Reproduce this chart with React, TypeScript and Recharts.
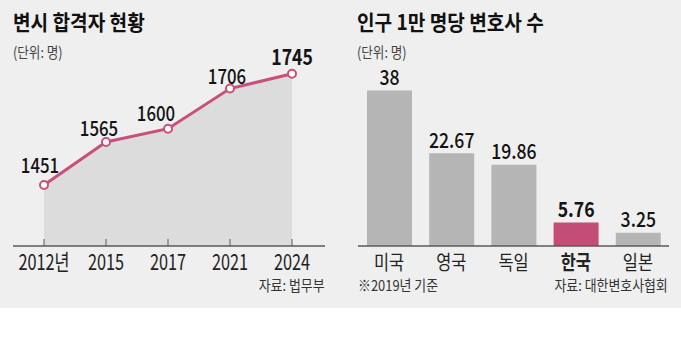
import React from "react";
import { ComposedChart, Area, XAxis, YAxis, BarChart, Bar, Cell, LabelList } from "recharts";

// 변시 합격자 현황 (단위: 명)
const years = ["2012년", "2015", "2017", "2021", "2024"];
const passers = [1451, 1565, 1600, 1706, 1745];

// 인구 1만 명당 변호사 수 (단위: 명)
const countries = ["미국", "영국", "독일", "한국", "일본"];
const lawyersPer10k = [38, 22.67, 19.86, 5.76, 3.25];
const highlight = "한국";

const FONT = "'Noto Sans CJK KR', 'Noto Sans', sans-serif";
const PINK = "#c94f7c";
const BAR_PINK = "#c44d77";
const GRAY_BAR = "#b5b5b5";
const AREA_FILL = "#dcdcdc";
const BG = "#efefef";
const AXIS = "#5a5a5a";
const INK = "#141414";

// small nudges of the line labels (they sit up-left of each point)
const lineLabelDx = [-4, -7, -12, -3, 0];
const lineLabelDy = [-21, -15, -17, -14, -18];

const passData = years.map((year, i) => ({ year, v: passers[i] }));
const barData = countries.map((name, i) => ({ name, v: lawyersPer10k[i] }));

// the original typeface is a condensed gothic, so glyphs get squeezed horizontally
function SqText({ x, y, size, sx = 0.82, weight = 400, fill = INK, anchor = "middle", children }: any) {
  return (
    <text
      transform={`translate(${x},${y}) scale(${sx},1)`}
      textAnchor={anchor}
      dominantBaseline="central"
      fontSize={size}
      fontWeight={weight}
      fill={fill}
      fontFamily={FONT}
    >
      {children}
    </text>
  );
}

function YearTick({ x, y, payload }: any) {
  return (
    <g>
      <line x1={x} x2={x} y1={y - 7} y2={y} stroke={AXIS} strokeWidth={1} />
      <SqText x={x} y={y + 15} size={22} sx={0.74} fill="#222">
        {payload.value}
      </SqText>
    </g>
  );
}

function CountryTick({ x, y, payload }: any) {
  const hot = payload.value === highlight;
  return (
    <SqText x={x} y={y + 15} size={20} weight={hot ? 700 : 400} fill="#222">
      {payload.value}
    </SqText>
  );
}

function LineLabel({ x, y, value }: any) {
  const i = passers.indexOf(Number(value));
  const last = i === passers.length - 1;
  return (
    <SqText
      x={x + (lineLabelDx[i] ?? 0)}
      y={y + (lineLabelDy[i] ?? -16)}
      size={last ? 22 : 21}
      sx={0.8}
      weight={last ? 700 : 500}
    >
      {value}
    </SqText>
  );
}

function BarLabel({ x, y, width, value }: any) {
  const i = lawyersPer10k.indexOf(Number(value));
  const hot = countries[i] === highlight;
  return (
    <SqText x={x + width / 2} y={y - 14} size={21} sx={0.84} weight={hot ? 700 : 500}>
      {value}
    </SqText>
  );
}

function Note({ style, children, size = 15, sx = 0.86, weight = 400, color = "#333", origin = "left center" }: any) {
  return (
    <div
      style={{
        position: "absolute",
        fontFamily: FONT,
        fontSize: size,
        fontWeight: weight,
        color,
        lineHeight: 1,
        whiteSpace: "nowrap",
        transform: `scaleX(${sx})`,
        transformOrigin: origin,
        ...style,
      }}
    >
      {children}
    </div>
  );
}

export default function App() {
  return (
    <div style={{ position: "absolute", left: 0, top: 0, width: 681, height: 351, background: "#fff" }}>
      <div style={{ position: "absolute", left: 0, top: 0, width: 681, height: 308, background: BG }} />

      <Note style={{ left: 13, top: 11 }} size={21} sx={0.91} weight={700} color="#111">
        변시 합격자 현황
      </Note>
      <Note style={{ left: 13, top: 44 }} size={15} sx={0.84} color="#444">
        (단위: 명)
      </Note>
      <Note style={{ left: 357, top: 11 }} size={21} sx={0.91} weight={700} color="#111">
        인구 1만 명당 변호사 수
      </Note>
      <Note style={{ left: 357, top: 44 }} size={15} sx={0.84} color="#444">
        (단위: 명)
      </Note>

      <div style={{ position: "absolute", left: 0, top: 0 }}>
        <ComposedChart
          width={340}
          height={308}
          data={passData}
          margin={{ top: 53, right: 15, bottom: 32, left: 13 }}
        >
          <XAxis
            dataKey="year"
            scale="point"
            padding={{ left: 31, right: 33 }}
            height={30}
            tickSize={0}
            tickMargin={0}
            tick={<YearTick />}
            axisLine={{ stroke: AXIS, strokeWidth: 1.3 }}
            tickLine={false}
            interval={0}
          />
          <YAxis hide domain={[1290, 1800]} />
          <Area
            type="linear"
            dataKey="v"
            stroke={PINK}
            strokeWidth={3}
            fill={AREA_FILL}
            fillOpacity={1}
            dot={{ r: 4, fill: "#fff", stroke: PINK, strokeWidth: 2 }}
            activeDot={false}
            isAnimationActive={false}
          >
            <LabelList dataKey="v" content={<LineLabel />} />
          </Area>
        </ComposedChart>
      </div>

      <div style={{ position: "absolute", left: 340, top: 0 }}>
        <BarChart
          width={341}
          height={308}
          data={barData}
          margin={{ top: 62, right: 12, bottom: 32, left: 18 }}
        >
          <XAxis
            dataKey="name"
            height={30}
            tickSize={0}
            tickMargin={0}
            tick={<CountryTick />}
            axisLine={{ stroke: AXIS, strokeWidth: 1.3 }}
            tickLine={false}
            interval={0}
          />
          <YAxis hide domain={[0, 45]} />
          <Bar dataKey="v" barSize={45} isAnimationActive={false}>
            {barData.map((d) => (
              <Cell key={d.name} fill={d.name === highlight ? BAR_PINK : GRAY_BAR} />
            ))}
            <LabelList dataKey="v" content={<BarLabel />} />
          </Bar>
        </BarChart>
      </div>

      <Note style={{ right: 681 - 325, top: 277 }} origin="right center">
        자료: 법무부
      </Note>
      <Note style={{ left: 358, top: 277 }}>※2019년 기준</Note>
      <Note style={{ right: 681 - 668, top: 277 }} origin="right center">
        자료: 대한변호사협회
      </Note>
    </div>
  );
}
